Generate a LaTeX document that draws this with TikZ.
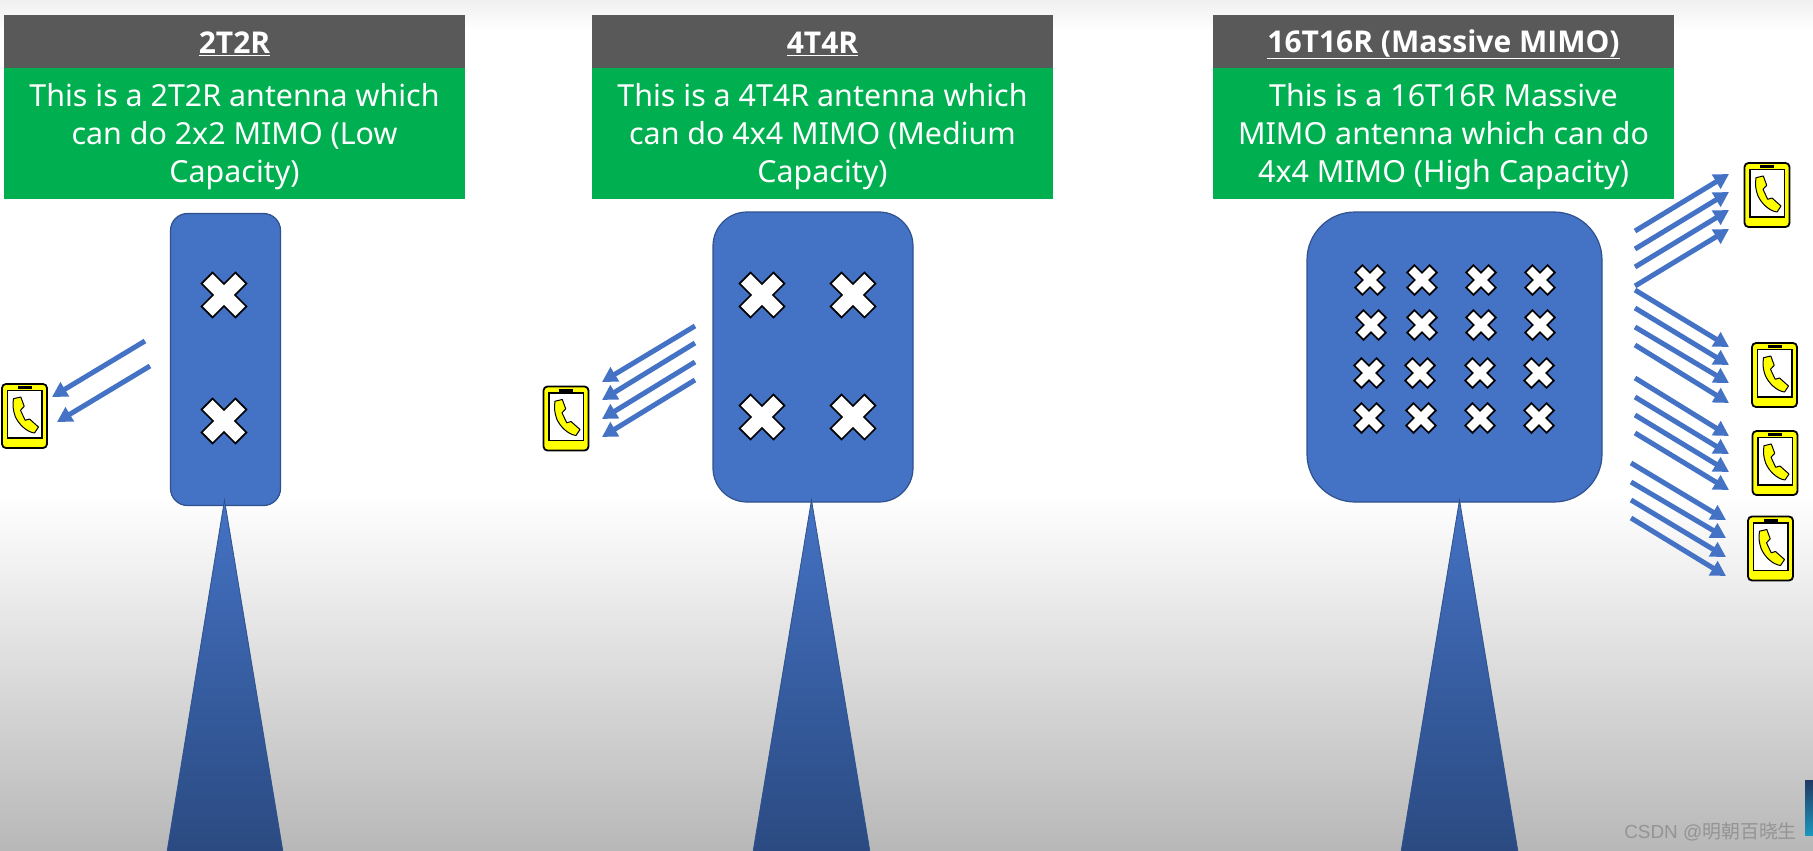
\documentclass[tikz,border=0pt]{standalone}
\usepackage{fontspec}
\setmainfont{Noto Sans}
\newfontfamily\headf{Open Sans}
\newfontfamily\cjkwm{Noto Sans CJK SC}
\newfontfamily\latwm{Liberation Sans}
\usetikzlibrary{arrows.meta}
\definecolor{blueA}{HTML}{4472C4}
\definecolor{blueB}{HTML}{2F528F}
\definecolor{headG}{HTML}{595959}
\definecolor{greenB}{HTML}{00B050}
\definecolor{yel}{HTML}{FFFF00}
\newcommand{\dropline}[1]{\raisebox{-3pt}[\height][\depth]{#1}}
\newcommand{\headline}[1]{\raisebox{-2.5pt}[\height][\depth]{\underline{#1}}}
\tikzset{
  x=1pt,y=-1pt,
  headbox/.style={fill=headG,text=white,minimum width=461pt,minimum height=53pt,inner sep=0pt,font=\headf\bfseries\fontsize{30}{36}\selectfont},
  descbox/.style={fill=greenB,text=white,minimum width=461pt,minimum height=131pt,inner sep=0pt,align=center,font=\fontsize{30.4}{38}\selectfont},
  towerbox/.style={fill=blueA,draw=blueB,line width=1.2pt},
  mast/.style={top color=blueA,bottom color=blueB!90!black,draw=blueB,line width=.8pt},
  ray/.style={draw=blueA,line width=5pt,-{Triangle[length=15pt,width=16pt]},shorten >=0pt},
  crossmark/.pic={
    \begin{scope}[scale=#1,rotate=45]
      \draw[fill=white,draw=black,line width=1.7pt,line join=miter]
        (-7.8,-24)--(7.8,-24)--(7.8,-7.8)--(24,-7.8)--(24,7.8)--(7.8,7.8)--(7.8,24)--(-7.8,24)--(-7.8,7.8)--(-24,7.8)--(-24,-7.8)--(-7.8,-7.8)--cycle;
    \end{scope}},
  phone/.pic={
    \draw[fill=yel,draw=black,line width=1.8pt,rounded corners=4pt] (-22.5,-32) rectangle (22.5,32);
    \draw[fill=white,draw=black,line width=1.1pt] (-17,-25.5) rectangle (17.5,22);
    \fill[black] (-7,-30) rectangle (7,-26.8);
    \draw[fill=yel,draw=black,line width=1pt,line join=round]
      (-11,-17.3)--(-3.7,-19)--(-0.3,-9.7)--(-4,-5.7)--(0.7,4.3)--(5,3)--(14,11)--(10,17)
      .. controls (2,16) and (-6,8) .. (-9.3,0.3)
      .. controls (-11.5,-6) and (-12,-11) .. cycle;
  }
}
\newcommand{\beam}[5]{%
  \coordinate (#1s) at (#2,#3);
  \coordinate (#1e) at (#4,#5);
  \draw[ray] (#1s) -- (#1e);}
\begin{document}
\begin{tikzpicture}
\useasboundingbox (0,0) rectangle (1813,851);
\fill[white] (0,0) rectangle (1813,851);
\shade[top color=black!6,bottom color=white] (0,0) rectangle (1813,30);
\shade[top color=white,bottom color=black!28] (0,495) rectangle (1813,851);
% thumbnail
\shade[top color=blueB!70!black,bottom color=blueB!60!cyan] (1805,780) rectangle (1813,835);
% headers
\node[headbox] (h1) at (234.5,41.5) {\headline{2T2R}};
\node[headbox] (h2) at (822.5,41.5) {\headline{4T4R}};
\node[headbox] (h3) at (1443.5,41.5) {\headline{16T16R (Massive MIMO)}};
\node[descbox] (d1) at (234.5,133.5) {\dropline{This is a 2T2R antenna which}\\\dropline{can do 2x2 MIMO (Low}\\\dropline{Capacity)}};
\node[descbox] (d2) at (822.5,133.5) {\dropline{This is a 4T4R antenna which}\\\dropline{can do 4x4 MIMO (Medium}\\\dropline{Capacity)}};
\node[descbox] (d3) at (1443.5,133.5) {\dropline{This is a 16T16R Massive}\\\dropline{MIMO antenna which can do}\\\dropline{4x4 MIMO (High Capacity)}};
% towers
\node[towerbox,minimum width=110pt,minimum height=292pt,rounded corners=17pt] (t1) at (225.5,359.5) {};
\node[towerbox,minimum width=200pt,minimum height=290pt,rounded corners=34pt] (t2) at (813,357) {};
\node[towerbox,minimum width=295pt,minimum height=290pt,rounded corners=48pt] (t3) at (1454.5,357) {};
\shade[mast] (224.5,500) -- (283,852) -- (167,852) -- cycle;
\shade[mast] (811.5,500) -- (870,852) -- (753,852) -- cycle;
\shade[mast] (1459.5,500) -- (1518,852) -- (1401,852) -- cycle;
% crosses
\foreach \p in {(224,295),(224,421),(762,295),(853,295),(762,417),(853,417)}
  \pic at \p {crossmark=1};
\foreach \p in {(1370,280),(1422,280),(1481,280),(1540,280),
                (1371,325),(1422,325),(1481,325),(1540,325),
                (1369,373),(1420,373),(1480,373),(1539,373),
                (1369,418),(1421,418),(1480,418),(1539,418)}
  \pic at \p {crossmark=0.66};
% phones
\pic at (24.5,416) {phone};
\pic at (566,418.5) {phone};
\pic at (1767,195) {phone};
\pic at (1774.5,375) {phone};
\pic at (1775,463) {phone};
\pic at (1770.5,548.5) {phone};
% beams
\beam{a1}{145}{341}{52}{397}
\beam{a2}{150}{366}{57}{422}
\beam{b1}{695}{326}{602}{382}
\beam{b2}{695}{343}{602}{400}
\beam{b3}{695}{362}{602}{419}
\beam{b4}{695}{380}{602}{437}
\beam{c1}{1635}{231}{1729}{174}
\beam{c2}{1635}{249}{1729}{192}
\beam{c3}{1635}{267}{1729}{210}
\beam{c4}{1635}{286}{1729}{229}
\beam{d1}{1635}{290}{1729}{347}
\beam{d2}{1635}{308}{1729}{365}
\beam{d3}{1635}{327}{1729}{383}
\beam{d4}{1635}{345}{1729}{403}
\beam{e1}{1635}{378}{1729}{436}
\beam{e2}{1635}{397}{1729}{454}
\beam{e3}{1635}{415}{1729}{472}
\beam{e4}{1635}{433}{1729}{490}
\beam{f1}{1631}{463}{1726}{520}
\beam{f2}{1631}{482}{1726}{538}
\beam{f3}{1631}{500}{1726}{557}
\beam{f4}{1631}{518}{1726}{576}
% watermark
\node[text=black!42,anchor=east,inner sep=0pt,font=\fontsize{18.9}{22}\selectfont] (wm) at (1797,832) {\latwm CSDN @\cjkwm 明朝百晓生};
\end{tikzpicture}
\end{document}
